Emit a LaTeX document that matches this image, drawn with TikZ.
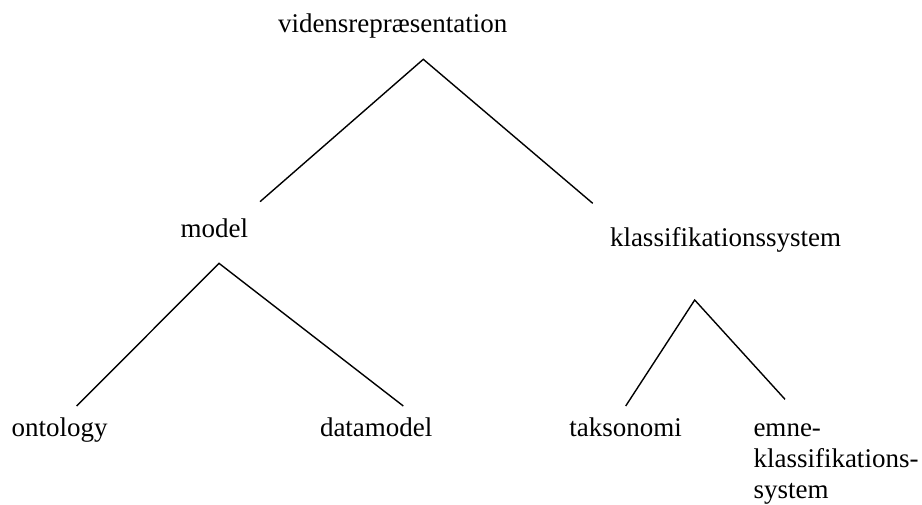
\documentclass[tikz,border=0pt]{standalone}
\usepackage{fontspec}
\setmainfont{Liberation Serif}
\begin{document}
\begin{tikzpicture}[x=1pt,y=-1pt,
  term/.style={anchor=base west,inner sep=0pt,outer sep=0pt,
    font=\fontsize{27}{31}\selectfont},
  branch/.style={draw=black,line width=1.4pt,line join=miter}]
\useasboundingbox (0,0) rectangle (922,504);

% concept labels
\node[term] (vr)   at (278,32.3)   {vidensrepræsentation};
\node[term] (mod)  at (180.7,237.7) {model};
\node[term] (ks)   at (610,246.7)  {klassifikationssystem};
\node[term] (ont)  at (11.7,436.5) {ontology};
\node[term] (dm)   at (320,436.5)  {datamodel};
\node[term] (tak)  at (569.3,436.5) {taksonomi};
\node[term] (emne) at (753.5,436.5)
  {\begin{tabular}[t]{@{}l@{}}emne-\\klassifikations-\\system\end{tabular}};

% branch points of the tree
\coordinate (vr-top) at (423.3,59.3);
\coordinate (vr-l)   at (260,201.7);
\coordinate (vr-r)   at (592.7,203.3);
\coordinate (mod-top) at (219,263.3);
\coordinate (mod-l)   at (76.7,406);
\coordinate (mod-r)   at (403.3,406);
\coordinate (ks-top) at (694.7,300);
\coordinate (ks-l)   at (625.7,406);
\coordinate (ks-r)   at (785,399.3);

\draw[branch] (vr-l) -- (vr-top) -- (vr-r);
\draw[branch] (mod-l) -- (mod-top) -- (mod-r);
\draw[branch] (ks-l) -- (ks-top) -- (ks-r);
\end{tikzpicture}
\end{document}
